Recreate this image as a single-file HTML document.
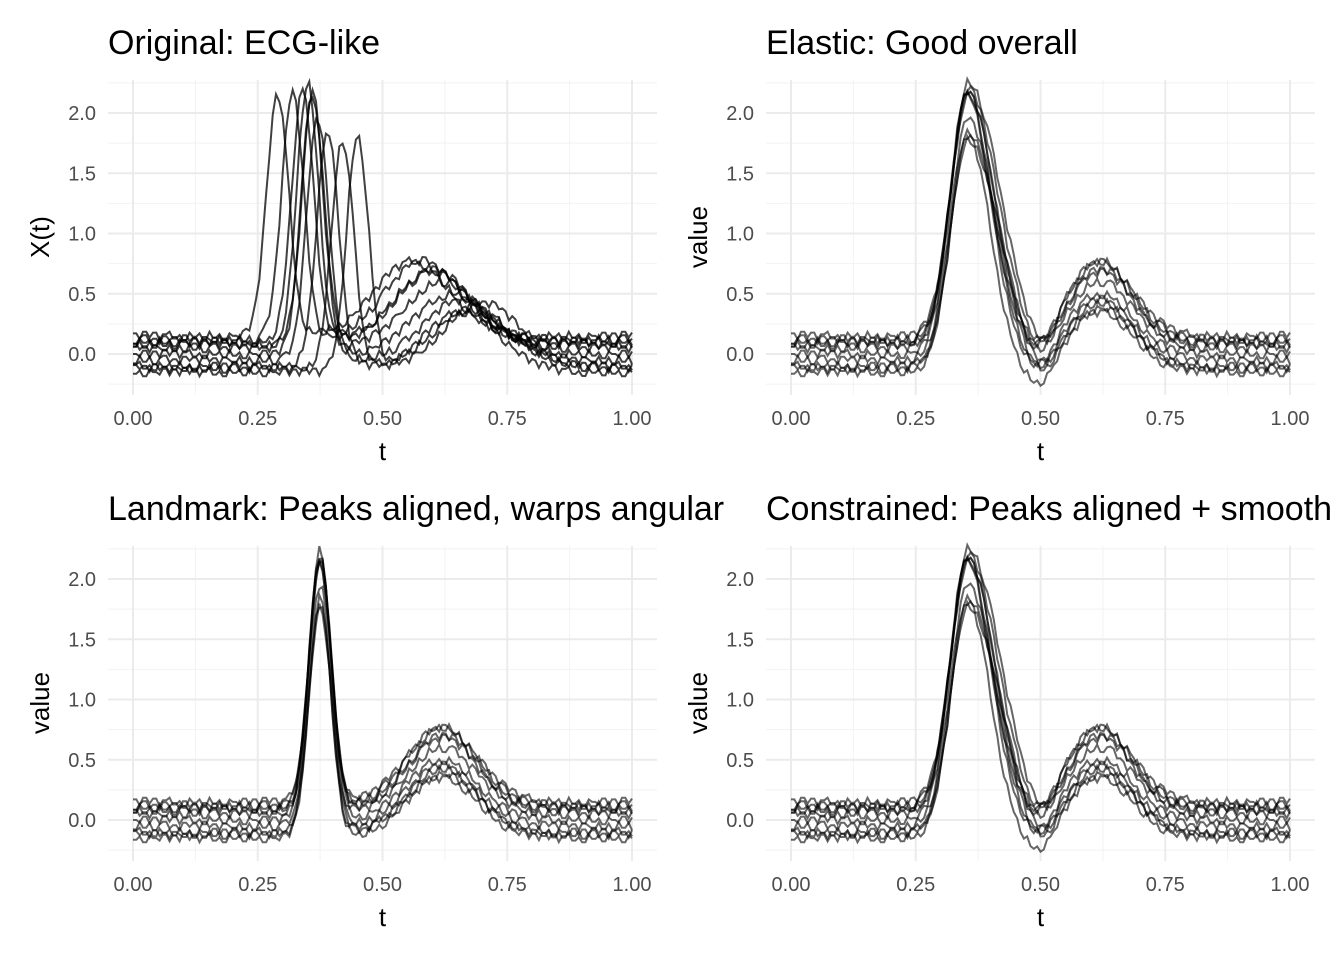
<!DOCTYPE html>
<html><head><meta charset="utf-8"><style>
body{margin:0;background:#fff}
svg text{font-family:"Liberation Sans",sans-serif}
</style></head><body>
<svg id="c" width="1344" height="960"></svg>
<script>
// per-curve parameters
const baselines=[0.15,0.12,0.1,0.05,0.0,-0.05,-0.1,-0.12,-0.15,0.08];
const origPeakT=[0.29,0.32,0.34,0.35,0.36,0.37,0.39,0.42,0.45,0.36];
const peakH=[2.0,2.05,2.1,2.2,2.15,2.0,1.95,1.9,1.95,2.1];
const origWaveT=[0.56,0.58,0.60,0.62,0.64,0.66,0.68,0.70,0.66,0.60];
const waveH=[0.62,0.65,0.6,0.55,0.5,0.5,0.48,0.55,0.5,0.6];
const noise=[0.03,-0.04,0.05,-0.02,0.04,-0.05,0.02,0.05,-0.03,0.01,-0.05,0.04,-0.01,0.03,-0.04,0.05,-0.02,0.02,-0.05,0.03,0.0,-0.03,0.04,-0.04];
const xTicks=[0,0.25,0.5,0.75,1];
const xTickLabels=["0.00","0.25","0.50","0.75","1.00"];
const yTicks=[0,0.5,1,1.5,2];
const yTickLabels=["0.0","0.5","1.0","1.5","2.0"];

const NS="http://www.w3.org/2000/svg";
const svg=document.getElementById('c');
function mk(tag,attrs,parent){const e=document.createElementNS(NS,tag);for(const k in attrs)e.setAttribute(k,attrs[k]);(parent||svg).appendChild(e);return e;}
function g(t,m,s){return Math.exp(-(t-m)*(t-m)/(2*s*s));}

const panels=[
 {title:"Original: ECG-like",ylab:"X(t)",ox:0,oy:0,type:"orig"},
 {title:"Elastic: Good overall",ylab:"value",ox:658,oy:0,type:"elastic"},
 {title:"Landmark: Peaks aligned, warps angular",ylab:"value",ox:0,oy:466,type:"landmark"},
 {title:"Constrained: Peaks aligned + smooth",ylab:"value",ox:658,oy:466,type:"elastic"}
];
function curveVal(type,i,t,k){
  const b=baselines[i]+0.7*noise[(Math.floor(k/1.5)+i*5)%noise.length];
  if(type==="orig"){
    return b+peakH[i]*g(t,origPeakT[i],0.022)+waveH[i]*g(t,origWaveT[i],0.075);
  }
  if(type==="landmark"){
    return b+peakH[i]*g(t,0.375,0.022)+waveH[i]*g(t,0.62,0.07);
  }
  const s=t<0.355?0.035:0.045+0.006*(i%4);
  return b+peakH[i]*g(t,0.355,s)-0.18*g(t,0.5,0.03)+waveH[i]*g(t,0.62,0.065);
}
panels.forEach((p,pi)=>{
  const grp=mk('g',{},svg);
  
  
  const X=t=>p.ox+133+t*499;
  const Y=v=>p.oy+354-v*120.5;
  const top=p.oy+80,bot=p.oy+395,l=p.ox+108,r=p.ox+657;
  for(let t=0.125;t<1;t+=0.25){mk('line',{x1:X(t),x2:X(t),y1:top,y2:bot,stroke:'#f2f2f2','stroke-width':1},grp);}
  for(let v=-0.25;v<2.3;v+=0.5){mk('line',{x1:l,x2:r,y1:Y(v),y2:Y(v),stroke:'#f2f2f2','stroke-width':1},grp);}
  xTicks.forEach((t,j)=>{mk('line',{x1:X(t),x2:X(t),y1:top,y2:bot,stroke:'#ebebeb','stroke-width':2},grp);
    const tx=mk('text',{x:X(t),y:p.oy+425,'text-anchor':'middle','font-size':20,fill:'#4d4d4d'},grp);tx.textContent=xTickLabels[j];
    });
  yTicks.forEach((v,j)=>{mk('line',{x1:l,x2:r,y1:Y(v),y2:Y(v),stroke:'#ebebeb','stroke-width':2},grp);
    const tx=mk('text',{x:p.ox+96,y:Y(v)+7,'text-anchor':'end','font-size':20,fill:'#4d4d4d'},grp);tx.textContent=yTickLabels[j];
    });
  for(let i=0;i<baselines.length;i++){
    let d='';
    for(let k=0;k<=150;k++){const t=k/150;d+=(k?'L':'M')+X(t).toFixed(1)+','+Y(curveVal(p.type,i,t,k)).toFixed(1);}
    const path=mk('path',{d:d,fill:'none',stroke:'#000','stroke-opacity':p.type==='orig'?0.75:0.6,'stroke-width':2},grp);
    
    
  }
  const ti=mk('text',{x:p.ox+108,y:p.oy+54,'font-size':34,fill:'#000'},grp);ti.textContent=p.title;
  
  const xl=mk('text',{x:X(0.5),y:p.oy+460,'text-anchor':'middle','font-size':26,fill:'#000'},grp);xl.textContent='t';
  
  const yl=mk('text',{x:0,y:0,'text-anchor':'middle','font-size':26,fill:'#000',transform:`translate(${p.ox+49},${p.oy+237}) rotate(-90)`},grp);yl.textContent=p.ylab;
  
});
</script>
</body></html>
